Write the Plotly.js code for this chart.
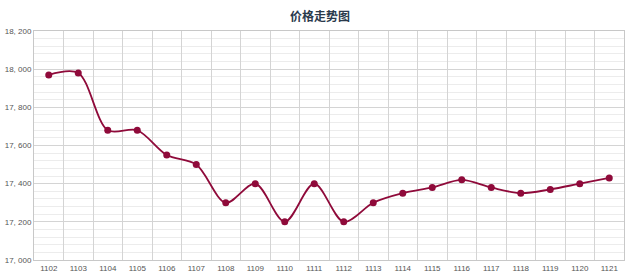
<!DOCTYPE html>
<html><head><meta charset="utf-8">
<script src="https://cdn.plot.ly/plotly-3.0.1.min.js"></script>
<style>html,body{margin:0;padding:0;background:#fff}#c{width:640px;height:280px}</style>
</head><body><div id="c"></div>
<script>
const categories = ["1102","1103","1104","1105","1106","1107","1108","1109","1110","1111","1112","1113","1114","1115","1116","1117","1118","1119","1120","1121"];
const prices = [17970,17980,17680,17680,17550,17500,17300,17400,17200,17400,17200,17300,17350,17380,17420,17380,17350,17370,17400,17430];
const yTicks = [17000,17200,17400,17600,17800,18000,18200];
const yTickText = ["17, 000","17, 200","17, 400","17, 600","17, 800","18, 000","18, 200"];

Plotly.newPlot('c', [{
  x: categories, y: prices, type: 'scatter', mode: 'lines+markers',
  line: {color: '#8f0a3a', width: 1.8, shape: 'spline', smoothing: 0.9},
  marker: {color: '#8f0a3a', size: 7},
  hoverinfo: 'x+y'
}], {
  width: 640, height: 280,
  margin: {l: 34, r: 16, t: 31, b: 20},
  paper_bgcolor: '#fff', plot_bgcolor: '#fff',
  title: {text: '<b>价格走势图</b>', x: 0.5, xanchor: 'center', y: 0.94, yanchor: 'middle',
    font: {family: '"Noto Sans CJK SC", sans-serif', size: 12, color: '#2a3a4c'}},
  showlegend: false,
  xaxis: {type: 'category', tickson: 'boundaries', showgrid: true, gridcolor: '#d4d4d4', gridwidth: 1,
    showline: true, linecolor: '#c8c8c8', mirror: true, ticks: '', tickangle: 0, automargin: false,
    tickfont: {family: '"Liberation Sans", sans-serif', size: 8, color: '#555'},
    range: [-0.5, 19.5], fixedrange: true, zeroline: false},
  yaxis: {range: [17000, 18200], tickvals: yTicks, ticktext: yTickText, automargin: false,
    showgrid: true, gridcolor: '#d4d4d4', gridwidth: 1,
    minor: {dtick: 40, tick0: 17000, showgrid: true, gridcolor: '#ececec', gridwidth: 1, ticks: ''},
    showline: true, linecolor: '#c8c8c8', mirror: true, ticks: '', zeroline: false,
    tickfont: {family: '"Liberation Sans", sans-serif', size: 8, color: '#555'},
    fixedrange: true}
}, {displayModeBar: false, staticPlot: true});
</script></body></html>
